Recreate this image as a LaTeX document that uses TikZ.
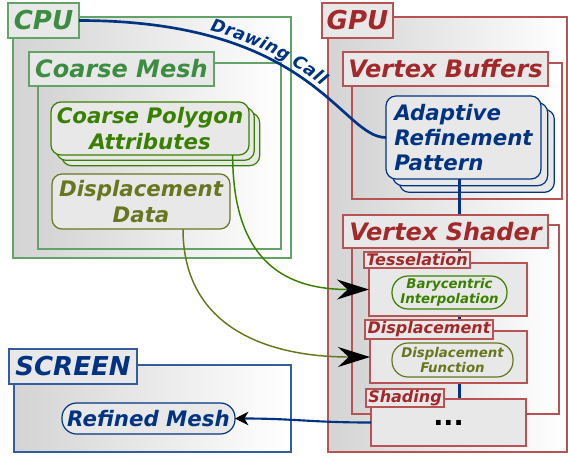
\documentclass[tikz,border=0pt]{standalone}
\usepackage{fontspec}
\setmainfont{DejaVu Sans}
\usepackage{tikz}
\usetikzlibrary{shadows,arrows.meta,decorations.text,calc}
\definecolor{cpugreen}{RGB}{60,140,66}
\definecolor{attrgreen}{RGB}{58,128,0}
\definecolor{dispolive}{RGB}{104,118,32}
\definecolor{gpured}{RGB}{162,40,42}
\definecolor{scrblue}{RGB}{0,52,130}

\pgfdeclarelayer{back}
\pgfdeclarelayer{mid}
\pgfsetlayers{back,mid,main}

\tikzset{
  sz/.style 2 args={minimum width=#1*0.75pt, minimum height=#2*0.75pt,
    anchor=north west, outer sep=0pt, inner sep=0pt},
  grpframe/.style={draw=#1!80, line width=0.8pt, left color=black!17, right color=white},
  subframe/.style={draw=#1!80, line width=0.8pt, fill=black!9},
  grptag/.style={draw=#1!80, line width=0.8pt, fill=black!9, text=#1,
    font=\fontsize{18}{20}\selectfont\bfseries\itshape},
  bigtag/.style={grptag=#1, font=\fontsize{19.5}{20}\selectfont\bfseries\itshape},
  smalltag/.style={grptag=#1, font=\fontsize{12}{13}\selectfont\bfseries\itshape},
  grpitem/.style={draw=#1, line width=0.9pt, fill=black!9, rounded corners=7.5pt,
    text=#1, align=center, font=\fontsize{16}{19}\selectfont\bfseries\itshape},
  pillitem/.style={grpitem=#1, rounded corners=12pt, font=\fontsize{10}{11}\selectfont\bfseries\itshape},
  bigtip/.style={-{Stealth[length=24pt,width=15pt,inset=8pt,black]}},
  smalltip/.style={-{Stealth[length=10pt,width=10pt,inset=3pt,black]}},
}

\begin{document}
\begin{tikzpicture}[x=0.75pt,y=-0.75pt]
    \useasboundingbox (0,0) rectangle (568,455);

    % GPU side, lower layer
    \begin{pgfonlayer}{back}
    \node[grpframe=gpured, sz={239}{435}] (gpu) at (328,17) {};
    \node[grpframe=gpured, sz={210}{136}] (vbuf) at (352,63) {};
    \node[grptag=gpured, sz={205}{34}] (vbuflbl) at (343,52) {Vertex Buffers};
    \node[grpitem=scrblue, sz={155}{83}, align=left,
      copy shadow={shadow xshift=10pt,shadow yshift=-10pt},
      copy shadow={shadow xshift=5pt,shadow yshift=-5pt}] (adapt) at (386,96)
      {Adaptive\\Refinement\\Pattern};
    \node[grpframe=gpured, sz={207}{189}] (vshader) at (352,225) {};
    \end{pgfonlayer}

    % CPU side
    \node[grpframe=cpugreen, sz={278}{241}] (cpu) at (13,17) {};
    \node[bigtag=cpugreen, sz={71}{35}] (cpulbl) at (8,3) {CPU};
    \node[grpframe=cpugreen, sz={243}{186}] (mesh) at (38,63) {};
    \node[grptag=cpugreen, sz={185}{34}] (meshlbl) at (29,52) {Coarse Mesh};
    \node[grpitem=attrgreen, sz={198}{53},
      copy shadow={shadow xshift=8pt,shadow yshift=-8pt},
      copy shadow={shadow xshift=4pt,shadow yshift=-4pt}] (attr) at (51,102)
      {Coarse Polygon\\Attributes};
    \node[grpitem=dispolive, sz={178}{55}] (ddata) at (52,174) {Displacement\\Data};

    % GPU labels and stages
    \node[bigtag=gpured, sz={71}{35}] (gpulbl) at (322,3) {GPU};
    \node[grptag=gpured, sz={205}{33}] (vshaderlbl) at (343,215) {Vertex Shader};

    \node[subframe=gpured, sz={158}{53}] (tess) at (369,263) {};
    \node[smalltag=gpured, sz={106}{16}] (tesslbl) at (364,252) {Tesselation};
    \node[pillitem=attrgreen, sz={115}{33}] (bary) at (392,276) {Barycentric\\Interpolation};

    \node[subframe=gpured, sz={157}{52}] (disp) at (370,331) {};
    \node[smalltag=gpured, sz={128}{19}] (displbl) at (365,320) {Displacement};
    \node[pillitem=dispolive, sz={121}{34}] (dfunc) at (392,343) {Displacement\\Function};

    \node[subframe=gpured, sz={155}{47}, font=\fontsize{20}{20}\selectfont\bfseries] (shade) at (371,399) {...};
    \node[smalltag=gpured, sz={78}{18}] (shadelbl) at (366,389) {Shading};

    % screen
    \node[grpframe=scrblue, sz={277}{87}] (screen) at (14,365) {};
    \node[bigtag=scrblue, sz={128}{35}] (screenlbl) at (9,349) {SCREEN};
    \node[grpitem=scrblue, sz={173}{31}, rounded corners=11pt] (refined) at (62,403) {Refined Mesh};

    % pipeline line behind the stages
    \begin{pgfonlayer}{mid}
    \draw[scrblue, line width=1.6pt] ([xshift=-3pt]adapt.south) -- ([xshift=-3pt]adapt.south |- shade.north);
    \end{pgfonlayer}

    % connectors
    \draw[scrblue, line width=2pt,
      postaction={decorate, decoration={text along path, raise=4pt,
        text align={left indent=98pt},
        text={|\fontsize{13}{13}\selectfont\bfseries\itshape\color{scrblue}|Drawing Call}}}]
      (cpulbl.east) .. controls +(235,0) and +(-45,0) .. (adapt.west);
    \draw[attrgreen, line width=1.1pt, bigtip] ([xshift=62pt]attr.south)
      .. controls +(0,110) and +(-80,0) .. (tess.west);
    \draw[dispolive, line width=1.1pt, bigtip] ([xshift=31.5pt]ddata.south)
      .. controls +(0,100) and +(-100,0) .. (disp.west);
    \draw[scrblue, line width=1.6pt, smalltip] (shade.west)
      .. controls +(-60,0) and +(60,0) .. (refined.east);
\end{tikzpicture}
\end{document}
